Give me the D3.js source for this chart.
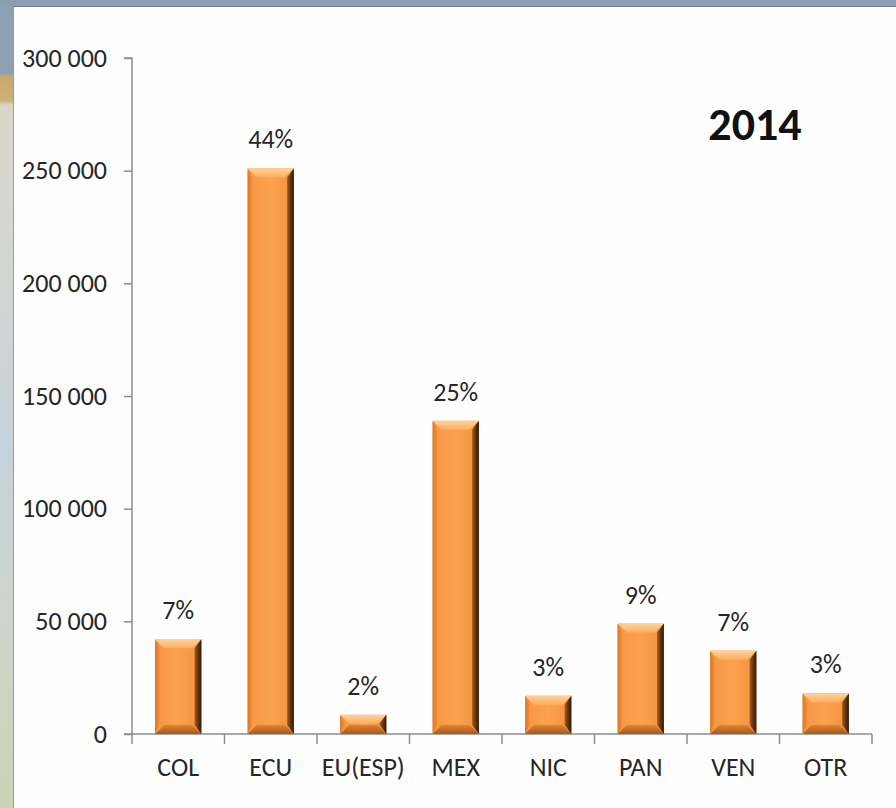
<!DOCTYPE html>
<html><head><meta charset="utf-8">
<script src="https://cdn.jsdelivr.net/npm/d3@7"></script>
<style>
html,body{margin:0;padding:0;background:#fff;}
svg{display:block;}
</style></head>
<body>
<svg id="chart" width="896" height="808"></svg>
<script>
const categories = ["COL","ECU","EU(ESP)","MEX","NIC","PAN","VEN","OTR"];
const values = [42000, 251000, 8500, 139000, 17000, 49000, 37000, 18000];
const percentLabels = ["7%","44%","2%","25%","3%","9%","7%","3%"];
const yTicks = [0, 50000, 100000, 150000, 200000, 250000, 300000];
const title = "2014";

const svg = d3.select("#chart");
const W = 896, H = 808;
const font = "Carlito, Calibri, Lato, 'Open Sans', sans-serif";

const defs = svg.append("defs");
const lg = defs.append("linearGradient").attr("id","strip").attr("x1",0).attr("y1",0).attr("x2",0).attr("y2",1);
[[0,"#8da1b5"],[0.09,"#8da1b5"],[0.095,"#c9a96c"],[0.125,"#cdb27a"],[0.13,"#d9d6c9"],[0.35,"#d2d6d2"],[0.55,"#c6d2dc"],[0.75,"#cdd6cc"],[1,"#c6d4b4"]]
  .forEach(([o,c])=>lg.append("stop").attr("offset",o).attr("stop-color",c));
const bg = defs.append("linearGradient").attr("id","barBody").attr("x1",0).attr("y1",0).attr("x2",1).attr("y2",0);
[[0,"#f79643"],[0.5,"#fba24f"],[1,"#f2913f"]].forEach(([o,c])=>bg.append("stop").attr("offset",o).attr("stop-color",c));
const tg = defs.append("linearGradient").attr("id","barTop").attr("x1",0).attr("y1",0).attr("x2",0).attr("y2",1);
[[0,"#fdd39a"],[1,"#fbae60"]].forEach(([o,c])=>tg.append("stop").attr("offset",o).attr("stop-color",c));
const rg = defs.append("linearGradient").attr("id","barRight").attr("x1",0).attr("y1",0).attr("x2",1).attr("y2",0);
[[0,"#a85a1a"],[0.55,"#5e3310"],[1,"#2e1a08"]].forEach(([o,c])=>rg.append("stop").attr("offset",o).attr("stop-color",c));
const lgb = defs.append("linearGradient").attr("id","barLeft").attr("x1",0).attr("y1",0).attr("x2",1).attr("y2",0);
[[0,"#d9782c"],[1,"#f28f3c"]].forEach(([o,c])=>lgb.append("stop").attr("offset",o).attr("stop-color",c));
const btg = defs.append("linearGradient").attr("id","barBottom").attr("x1",0).attr("y1",0).attr("x2",0).attr("y2",1);
[[0,"#e08434"],[1,"#a55a1c"]].forEach(([o,c])=>btg.append("stop").attr("offset",o).attr("stop-color",c));

svg.append("rect").attr("x",0).attr("y",0).attr("width",W).attr("height",H).attr("fill","#fefefe");
svg.append("rect").attr("x",0).attr("y",0).attr("width",13).attr("height",H).attr("fill","url(#strip)");
svg.append("rect").attr("x",0).attr("y",0).attr("width",W).attr("height",6).attr("fill","#8b9fb3");
svg.append("line").attr("x1",13.5).attr("x2",13.5).attr("y1",6).attr("y2",H).attr("stroke","#9a9a9a").attr("stroke-width",1);
svg.append("line").attr("x1",13).attr("x2",W).attr("y1",6.5).attr("y2",6.5).attr("stroke","#6f7f90").attr("stroke-width",1);

const x0 = 132, x1 = 872, y0 = 734, y1 = 58;
const x = d3.scaleBand().domain(categories).range([x0, x1]).paddingInner(0.5).paddingOuter(0.25);
const y = d3.scaleLinear().domain([0, 300000]).range([y0, y1]);

const fmt = v => d3.format(",")(v).replace(/,/g, " ");

const yAxis = d3.axisLeft(y).tickValues(yTicks).tickFormat(fmt).tickSize(8).tickPadding(17);
const gy = svg.append("g").attr("transform",`translate(${x0},0)`).call(yAxis);
gy.select(".domain").attr("stroke","#8c8c8c").attr("stroke-width",1.5).attr("d",`M-8,${y1}H0V${y0}`);
gy.selectAll(".tick line").attr("stroke","#8c8c8c").attr("stroke-width",1.5);
gy.selectAll(".tick text").attr("font-family",font).attr("font-size",26).attr("fill","#262626");

const xAxis = d3.axisBottom(x).tickSize(0).tickPadding(24);
const gx = svg.append("g").attr("transform",`translate(0,${y0})`).call(xAxis);
gx.select(".domain").remove();
gx.selectAll(".tick text").attr("font-family",font).attr("font-size",26).attr("fill","#262626");
svg.append("line").attr("x1",x0-8).attr("x2",x1).attr("y1",y0).attr("y2",y0).attr("stroke","#8c8c8c").attr("stroke-width",1.5);
const step = x.step();
const bounds = d3.range(categories.length+1).map(i => x0 + i*step);
svg.selectAll(".xtick").data(bounds).join("line").attr("class","xtick")
  .attr("x1",d=>d).attr("x2",d=>d).attr("y1",y0).attr("y2",y0+10)
  .attr("stroke","#8c8c8c").attr("stroke-width",1.5);

const bars = svg.selectAll(".bar").data(categories.map((c,i)=>({c, v:values[i], p:percentLabels[i]})))
  .join("g").attr("class","bar");
bars.each(function(d){
  const g = d3.select(this);
  const bx = x(d.c), bw = x.bandwidth(), by = y(d.v), bh = y0 - by;
  const b = Math.min(9, bh/2);
  const pts = a => a.map(p=>p.join(",")).join(" ");
  g.append("rect").attr("x",bx).attr("y",by).attr("width",bw).attr("height",bh).attr("fill","url(#barBody)");
  g.append("polygon").attr("points",pts([[bx,by],[bx+bw,by],[bx+bw-b,by+b],[bx+b,by+b]])).attr("fill","url(#barTop)");
  g.append("polygon").attr("points",pts([[bx,y0],[bx+bw,y0],[bx+bw-b,y0-b],[bx+b,y0-b]])).attr("fill","url(#barBottom)");
  g.append("polygon").attr("points",pts([[bx,by],[bx+b*0.5,by+b],[bx+b*0.5,y0-b],[bx,y0]])).attr("fill","url(#barLeft)");
  g.append("polygon").attr("points",pts([[bx+bw,by],[bx+bw-b*0.75,by+b],[bx+bw-b*0.75,y0-b],[bx+bw,y0]])).attr("fill","url(#barRight)");
  g.append("text").attr("x",bx+bw/2).attr("y",by-20).attr("text-anchor","middle")
    .attr("font-family",font).attr("font-size",26).attr("fill","#262626").text(d.p);
});

svg.append("text").attr("x",755).attr("y",140).attr("text-anchor","middle")
  .attr("font-family",font).attr("font-size",46).attr("font-weight","bold").attr("fill","#111").text(title);
</script>
</body></html>
